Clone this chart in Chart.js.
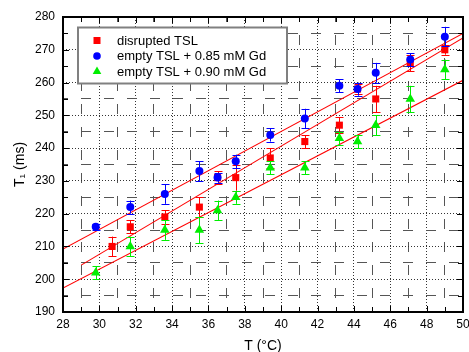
<!DOCTYPE html>
<html><head><meta charset="utf-8">
<script src="https://cdn.jsdelivr.net/npm/chart.js@4/dist/chart.umd.min.js"></script>
<style>html,body{margin:0;padding:0;background:#fff;}</style>
</head><body>
<canvas id="c" width="469" height="352" style="display:block;width:469px;height:352px"></canvas>
<script>
// ---- data ----
const seriesLabels = ['disrupted TSL', 'empty TSL + 0.85 mM Gd', 'empty TSL + 0.90 mM Gd'];
const redT   = [30.7, 31.7, 33.6, 35.5, 36.5, 37.5, 39.4, 41.3, 43.2, 44.2, 45.2, 47.1, 49.0];
const redT1  = [210, 216, 219, 222, 231, 231, 237, 242, 247, 258, 255, 266, 270];
const redErr = [3, 2, 2, 3, 2, 4, 3, 2, 2.5, 1.5, 4, 2.5, 1.5];
const blueT   = [29.8, 31.7, 33.6, 35.5, 36.5, 37.5, 39.4, 41.3, 43.2, 44.2, 45.2, 47.1, 49.0];
const blueT1  = [216, 222, 226, 233, 231, 236, 244, 249, 259, 258, 263, 267, 274];
const blueErr = [1, 2, 3, 3, 1.5, 2, 2, 3, 2, 2, 3, 2, 3];
const greenT   = [29.8, 31.7, 33.6, 35.5, 36.5, 37.5, 39.4, 41.3, 43.2, 44.2, 45.2, 47.1, 49.0];
const greenT1  = [202, 210, 215, 215, 221, 225, 234, 234, 243, 242, 247, 255, 264];
const greenErr = [2, 3, 3, 4, 3, 2, 2, 2, 2, 2, 3, 4, 3];
// linear fits (end points)
const fitBlueX = [28, 50],  fitBlueY = [209.2, 275.0];
const fitRedX = [29, 50],   fitRedY = [204.3, 273.6];
const fitGreenX = [28, 50], fitGreenY = [197.3, 260.7];
// axes
const xMin = 28, xMax = 50, xMajor = 2, xMinor = 1;
const yMin = 190, yMax = 280, yMajor = 10, yMinor = 5;
const xTitle = 'T (°C)';
const yTitle = 'T\u2081 (ms)';

const pts = (xs, ys) => xs.map((x, i) => ({x: x, y: ys[i]}));
const FONT = '"Liberation Sans", Arial, Helvetica, sans-serif';
const RED = '#ff0000', BLUE = '#0000ff', GREEN = '#00ee00';

const errorBars = {
  id: 'errorBars',
  beforeDatasetDraw(chart, args) {
    const ds = chart.data.datasets[args.index];
    if (!ds.errors) return;
    const ctx = chart.ctx, xs = chart.scales.x, ys = chart.scales.y;
    ctx.save();
    ctx.strokeStyle = ds.borderColor;
    ctx.lineWidth = 1;
    ds.data.forEach((p, i) => {
      const e = ds.errors[i];
      const px = Math.round(xs.getPixelForValue(p.x)) + 0.5;
      const y1 = ys.getPixelForValue(p.y - e), y2 = ys.getPixelForValue(p.y + e);
      ctx.beginPath();
      ctx.moveTo(px, y1); ctx.lineTo(px, y2);
      ctx.moveTo(px - 4, Math.round(y1) + 0.5); ctx.lineTo(px + 4, Math.round(y1) + 0.5);
      ctx.moveTo(px - 4, Math.round(y2) + 0.5); ctx.lineTo(px + 4, Math.round(y2) + 0.5);
      ctx.stroke();
    });
    ctx.restore();
  }
};

const frame = {
  id: 'frame',
  afterDatasetsDraw(chart) {
    const ctx = chart.ctx, a = chart.chartArea, xs = chart.scales.x, ys = chart.scales.y;
    ctx.save();
    ctx.strokeStyle = '#000';
    ctx.lineWidth = 1;
    ctx.beginPath();
    for (let v = xMin; v <= xMax + 1e-9; v += xMinor) {
      const px = Math.round(xs.getPixelForValue(v)) + 0.5;
      const L = (Math.abs(v % xMajor) < 1e-9) ? 6 : 5;
      ctx.moveTo(px, a.bottom); ctx.lineTo(px, a.bottom - L);
      ctx.moveTo(px, a.top); ctx.lineTo(px, a.top + L);
    }
    for (let v = yMin; v <= yMax + 1e-9; v += yMinor) {
      const py = Math.round(ys.getPixelForValue(v)) + 0.5;
      const L = (Math.abs(v % yMajor) < 1e-9) ? 6 : 5;
      ctx.moveTo(a.left, py); ctx.lineTo(a.left + L, py);
      ctx.moveTo(a.right, py); ctx.lineTo(a.right - L, py);
    }
    ctx.stroke();
    ctx.lineWidth = 2;
    ctx.strokeRect(a.left, a.top, a.right - a.left, a.bottom - a.top);
    ctx.restore();
  },
  afterDraw(chart) {
    const ctx = chart.ctx;
    ctx.save();
    ctx.fillStyle = '#fff';
    ctx.fillRect(78, 27.5, 209, 56);
    ctx.strokeStyle = '#808080';
    ctx.lineWidth = 2;
    ctx.strokeRect(78, 27.5, 209, 56);
    const rows = [40.5, 56, 71.5];
    const mx = 97, tx = 117;
    ctx.font = '13px ' + FONT;
    ctx.textBaseline = 'middle';
    ctx.textAlign = 'left';
    [0, 1, 2].forEach(i => {
      const ds = chart.data.datasets[i];
      const y = rows[i];
      ctx.fillStyle = ds.backgroundColor;
      ctx.beginPath();
      if (ds.pointStyle === 'rect') {
        ctx.rect(mx - 3.5, y - 3.5, 7, 7);
      } else if (ds.pointStyle === 'circle') {
        ctx.arc(mx, y, 3.8, 0, Math.PI * 2);
      } else {
        const r = 5;
        ctx.moveTo(mx, y - r);
        ctx.lineTo(mx + r * 0.866, y + r * 0.5);
        ctx.lineTo(mx - r * 0.866, y + r * 0.5);
        ctx.closePath();
      }
      ctx.fill();
      ctx.fillStyle = '#000';
      ctx.fillText(ds.label, tx, y + 0.5);
    });
    ctx.restore();
  }
};

const fitStyle = {showLine: true, borderColor: RED, backgroundColor: RED, borderWidth: 1.1, pointRadius: 0, order: 10, fill: false};

new Chart(document.getElementById('c'), {
  type: 'scatter',
  data: {
    datasets: [
      {label: seriesLabels[0], data: pts(redT, redT1), errors: redErr, pointStyle: 'rect', pointRadius: 5,
       backgroundColor: RED, borderColor: RED, borderWidth: 0, order: 3},
      {label: seriesLabels[1], data: pts(blueT, blueT1), errors: blueErr, pointStyle: 'circle', pointRadius: 4,
       backgroundColor: BLUE, borderColor: BLUE, borderWidth: 0, order: 2},
      {label: seriesLabels[2], data: pts(greenT, greenT1), errors: greenErr, pointStyle: 'triangle', pointRadius: 5.5,
       backgroundColor: GREEN, borderColor: GREEN, borderWidth: 0, order: 1},
      Object.assign({label: 'fit1', data: pts(fitBlueX, fitBlueY)}, fitStyle),
      Object.assign({label: 'fit2', data: pts(fitRedX, fitRedY)}, fitStyle),
      Object.assign({label: 'fit3', data: pts(fitGreenX, fitGreenY)}, fitStyle)
    ]
  },
  options: {
    responsive: false,
    devicePixelRatio: 1,
    animation: false,
    layout: {padding: {top: 17, right: 6, left: 0, bottom: 0}},
    plugins: {legend: {display: false}, tooltip: {enabled: false}},
    scales: {
      x: {
        type: 'linear', min: xMin, max: xMax,
        ticks: {stepSize: xMinor, autoSkip: false, maxRotation: 0, padding: 5, color: '#000',
                font: {family: FONT, size: 12},
                callback: v => (Math.abs(v % xMajor) < 1e-9 ? String(v) : '')},
        grid: {drawTicks: false, lineWidth: 1,
               color: c => (c.tick && Math.abs(c.tick.value % xMajor) < 1e-9) ? '#333' : '#555'},
        border: {display: false,
                 dash: c => (c.tick && Math.abs(c.tick.value % xMajor) < 1e-9) ? [1, 2] : [10, 13],
                 dashOffset: c => (c.tick && Math.abs(c.tick.value % xMajor) < 1e-9) ? 0 : 5},
        title: {display: true, text: xTitle, color: '#000', font: {family: FONT, size: 14, lineHeight: 1},
                padding: {top: 0, bottom: -1}},
        afterFit(s) { s.height = 40; s.paddingLeft = 0; s.paddingRight = 0; }
      },
      y: {
        type: 'linear', min: yMin, max: yMax,
        ticks: {stepSize: yMinor, autoSkip: false, padding: 8, color: '#000',
                font: {family: FONT, size: 12},
                callback: v => (Math.abs(v % yMajor) < 1e-9 ? String(v) : '')},
        grid: {drawTicks: false, lineWidth: 1,
               color: c => (c.tick && Math.abs(c.tick.value % yMajor) < 1e-9) ? '#333' : '#555'},
        border: {display: false,
                 dash: c => (c.tick && Math.abs(c.tick.value % yMajor) < 1e-9) ? [1, 2] : [10, 13],
                 dashOffset: c => (c.tick && Math.abs(c.tick.value % yMajor) < 1e-9) ? 0 : 5},
        title: {display: true, text: yTitle, color: '#000', font: {family: FONT, size: 14, lineHeight: 1},
                padding: {top: 13, bottom: 0}},
        afterFit(s) { s.width = 63; s.paddingTop = 0; s.paddingBottom = 0; }
      }
    }
  },
  plugins: [errorBars, frame]
});
</script>
</body></html>
